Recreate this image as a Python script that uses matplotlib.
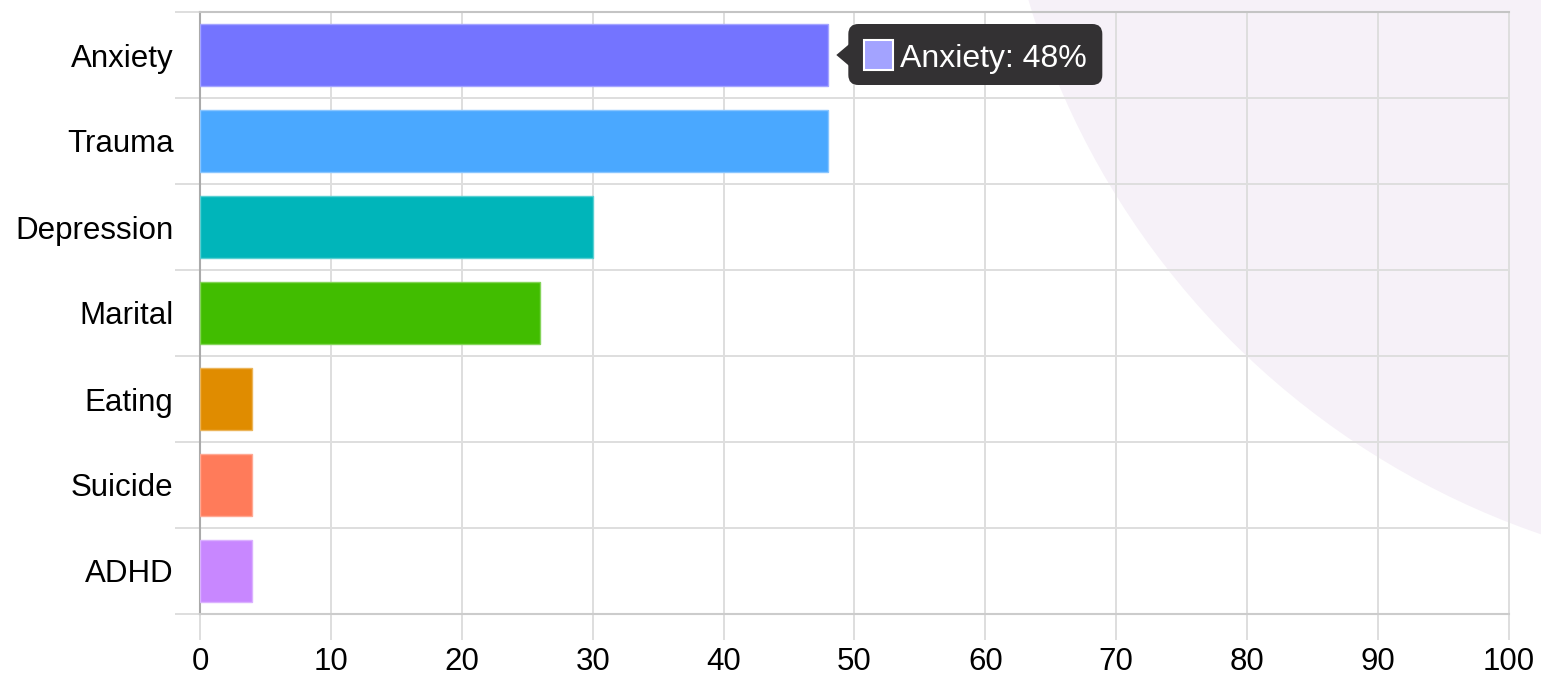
import numpy as np
import matplotlib.pyplot as plt
from matplotlib.patches import Ellipse, FancyBboxPatch, Polygon, Rectangle
from matplotlib.transforms import IdentityTransform
from matplotlib.colors import to_rgb

plt.rcParams['font.family'] = ['Liberation Sans', 'DejaVu Sans']

# share of clients per presenting issue (%)
issues = ['Anxiety', 'Trauma', 'Depression', 'Marital', 'Eating', 'Suicide', 'ADHD']
shares = [48, 48, 30, 26, 4, 4, 4]
bar_colors = ['#7474ff', '#4aa8ff', '#00b5ba', '#41bd00', '#e08c00', '#ff7b5a', '#c887ff']
x_ticks = [0, 10, 20, 30, 40, 50, 60, 70, 80, 90, 100]

W, H = 1541, 677
fig = plt.figure(figsize=(W / 100, H / 100), dpi=100)
fig.patch.set_facecolor('white')

# soft purple disc in the background, top right
fig.add_artist(Ellipse((1803 / W, 907 / H), 1616 / W, 1616 / H,
                       transform=fig.transFigure, fc='#f6f1f8', ec='none', zorder=0))

ax = fig.add_axes([200 / W, 1 - 614 / H, 1309 / W, 602 / H])
ax.patch.set_alpha(0)
ax.set_zorder(1)

def lighter(c, k=0.35):
    r, g, b = to_rgb(c)
    return (r + (1 - r) * k, g + (1 - g) * k, b + (1 - b) * k)

y = np.arange(len(issues))
ax.barh(y, shares, height=0.71, color=bar_colors,
        edgecolor=[lighter(c) for c in bar_colors], linewidth=1.0, zorder=3)

ax.set_xlim(0, 100)
ax.set_ylim(len(issues) - 0.5, -0.5)
ax.set_xticks(x_ticks)
ax.set_xticklabels([str(t) for t in x_ticks])
ax.set_yticks(y)
ax.set_yticklabels(issues)
ax.set_yticks(np.arange(len(issues) + 1) - 0.5, minor=True)

grid_c = '#dedede'
ax.grid(axis='x', which='major', color=grid_c, linewidth=1.4, zorder=0)
ax.grid(axis='y', which='minor', color=grid_c, linewidth=1.4, zorder=0)
ax.set_axisbelow(True)

ax.tick_params(axis='x', which='major', length=19, width=1.4, color=grid_c,
               labelsize=22.5, pad=5, labelcolor='black')
ax.tick_params(axis='y', which='major', length=0, labelsize=22.5, pad=19)
ax.tick_params(axis='y', which='minor', length=18, width=1.4, color=grid_c)
ax.xaxis.get_major_ticks()[0].tick1line.set_color('#aaaaaa')
for lab in ax.get_yticklabels():
    lab.set_verticalalignment('center_baseline')

ax.spines['left'].set_color('#aaaaaa')
ax.spines['left'].set_linewidth(1.5)
ax.spines['right'].set_color(grid_c)
ax.spines['right'].set_linewidth(1.4)
ax.spines['top'].set_color('#c4c4c4')
ax.spines['top'].set_linewidth(1.5)
ax.spines['bottom'].set_color('#cccccc')
ax.spines['bottom'].set_linewidth(1.5)

# hover tooltip for the first bar
px, py = ax.transData.transform((shares[0], y[0]))
ident = IdentityTransform()
tip_c = '#333133'
fig.add_artist(FancyBboxPatch((px + 20, py - 30), 254, 61,
                              boxstyle='round,pad=0,rounding_size=10',
                              fc=tip_c, ec='none', transform=ident, zorder=5))
fig.add_artist(Polygon([(px + 8, py), (px + 21, py + 11), (px + 21, py - 11)],
                       closed=True, fc=tip_c, ec='none', transform=ident, zorder=5))
fig.add_artist(Rectangle((px + 36, py - 15), 29, 30, fc='#a3a3ff', ec='white',
                         linewidth=1.5, transform=ident, zorder=6))
fig.text(px + 72, py, f'{issues[0]}: {shares[0]}%', transform=ident,
         color='white', fontsize=23, va='center_baseline', ha='left', zorder=6)

fig.savefig('out.png', dpi=100)
